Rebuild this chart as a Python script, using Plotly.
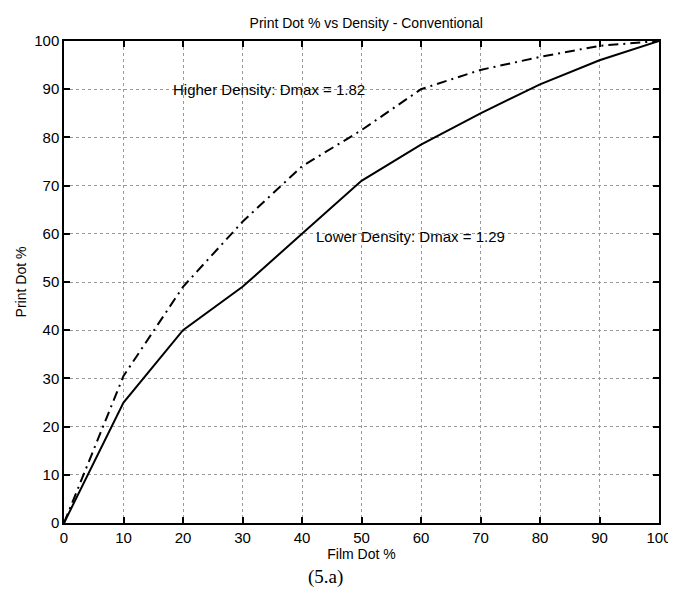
import plotly.graph_objects as go

film_dot = [0, 10, 20, 30, 40, 50, 60, 70, 80, 90, 100]
lower_density = [0, 25, 40, 49, 60, 71, 78.5, 85, 91, 96, 100]
higher_density = [0, 30.5, 49, 62.5, 74, 81.5, 90, 94, 96.7, 99, 100]
tick_vals = [0, 10, 20, 30, 40, 50, 60, 70, 80, 90, 100]
tick_text = ["0", "10", "20", "30", "40", "50", "60", "70", "80", "90", "100"]

FONT = "Liberation Sans, Arial, Helvetica, sans-serif"

fig = go.Figure()
fig.add_trace(go.Scatter(x=film_dot, y=lower_density, mode="lines",
                         line=dict(color="black", width=2), name="Lower Density"))
fig.add_trace(go.Scatter(x=film_dot, y=higher_density, mode="lines",
                         line=dict(color="black", width=2, dash="10px,5px,2px,5px"),
                         name="Higher Density"))

fig.add_annotation(x=18, y=90, xref="x", yref="y", text="Higher Density: Dmax = 1.82",
                   showarrow=False, xanchor="left", yanchor="middle",
                   font=dict(family=FONT, size=15, color="black"))
fig.add_annotation(x=42, y=59.5, xref="x", yref="y", text="Lower Density: Dmax = 1.29",
                   showarrow=False, xanchor="left", yanchor="middle",
                   font=dict(family=FONT, size=15, color="black"))
fig.add_annotation(x=0.44, y=-0.112, xref="paper", yref="paper", text="(5.a)",
                   showarrow=False, xanchor="center", yanchor="middle",
                   font=dict(family="Liberation Serif, Times New Roman, serif", size=19, color="black"))

axis_common = dict(
    range=[0, 100], tickvals=tick_vals, ticktext=tick_text,
    showline=True, linecolor="black", linewidth=1.5, mirror="ticks",
    ticks="inside", ticklen=6, tickcolor="black", tickwidth=1.5,
    showgrid=True, gridcolor="#9a9a9a", griddash="dot", gridwidth=1,
    zeroline=False, tickfont=dict(family=FONT, size=15, color="black"),
)

fig.update_xaxes(**axis_common,
                 title=dict(text="Film Dot %", font=dict(family=FONT, size=14, color="black"), standoff=2))
fig.update_yaxes(**axis_common,
                 title=dict(text="Print Dot %", font=dict(family=FONT, size=14, color="black"), standoff=4))

fig.update_layout(
    width=676, height=589,
    margin=dict(l=55, r=16, t=33, b=74),
    paper_bgcolor="white", plot_bgcolor="white",
    showlegend=False,
    title=dict(text="Print Dot % vs Density - Conventional", x=0.53, xanchor="center",
               y=0.975, yanchor="middle",
               font=dict(family=FONT, size=14, color="black")),
)

fig.write_html("out.html")
